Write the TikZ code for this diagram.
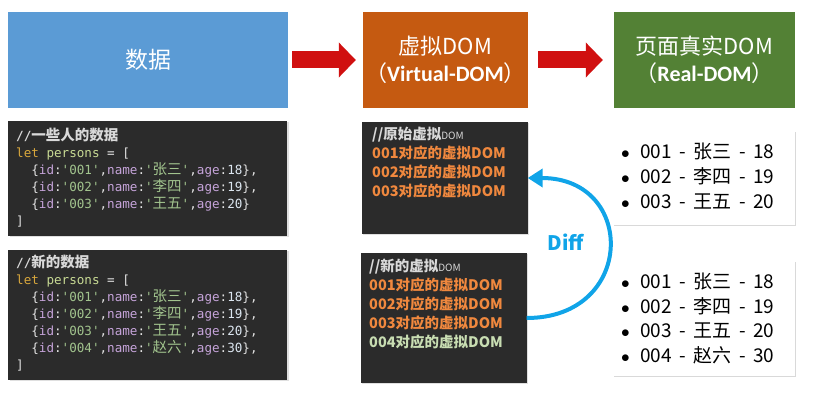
\documentclass[tikz,border=0pt]{standalone}
\usepackage{fontspec}
\setmainfont{Noto Sans CJK SC}
\setmonofont{DejaVu Sans Mono}
\newfontfamily\cjk{Noto Sans CJK SC}
\newfontfamily\calfont{Carlito}
\usetikzlibrary{arrows.meta,shadows}

\definecolor{databg}{HTML}{5B9BD5}
\definecolor{vdombg}{HTML}{C55A11}
\definecolor{rdombg}{HTML}{538135}
\definecolor{arrowred}{HTML}{D01010}
\definecolor{codebg}{HTML}{2B2B2B}
\definecolor{ccomment}{HTML}{D9D9D9}
\definecolor{ckw}{HTML}{D8A73C}
\definecolor{cvar}{HTML}{C8DA94}
\definecolor{cpun}{HTML}{E2E2E2}
\definecolor{cprop}{HTML}{C6A4DA}
\definecolor{cstr}{HTML}{A2C48E}
\definecolor{cnum}{HTML}{DCE6F0}
\definecolor{vorange}{HTML}{F0883E}
\definecolor{vgreen}{HTML}{C8DDB2}
\definecolor{diffblue}{HTML}{10A4E8}

% CJK inside the monospaced code
\newcommand\zh[1]{{\cjk\fontsize{14.5}{17}\selectfont #1}}
% one record of the persons array
\newcommand\rec[4]{\phantom{xx}\textcolor{cpun}{\{}\textcolor{cprop}{id}\textcolor{cpun}{:}\textcolor{cstr}{'#1'}\textcolor{cpun}{,}\textcolor{cprop}{name}\textcolor{cpun}{:}\textcolor{cstr}{'\zh{#2}'}\textcolor{cpun}{,}\textcolor{cprop}{age}\textcolor{cpun}{:}\textcolor{cnum}{#3}\textcolor{cpun}{\}#4}}
\newcommand\letline{\textcolor{ckw}{let} \textcolor{cvar}{persons} \textcolor{cpun}{= [}}
% one list entry of the page
\newcommand\li[3]{$\bullet$\hspace{10.5pt}#1\hspace{7.5pt}-\hspace{7.5pt}#2\hspace{7.5pt}-\hspace{7.5pt}#3}

\begin{document}
\begin{tikzpicture}[x=1pt,y=-1pt,
  topbox/.style={minimum height=96pt, inner sep=0pt, text=white, align=center},
  redarrow/.style={arrowred, line width=17pt, -{Triangle[length=17pt,width=34pt]}},
  codebox/.style={fill=codebg, minimum width=279pt, inner sep=0pt,
    drop shadow={opacity=0.25, shadow xshift=1.5pt, shadow yshift=-1.5pt}},
  codetext/.style={anchor=north west, align=left, inner sep=0pt, text=ccomment,
    font=\ttfamily\fontsize{12.6}{17}\selectfont},
  vbox/.style={fill=codebg, minimum width=166pt, inner sep=0pt,
    drop shadow={opacity=0.25, shadow xshift=1.5pt, shadow yshift=-1.5pt}},
  vtext/.style={anchor=north west, align=left, inner sep=0pt, text=vorange,
    font=\bfseries\fontsize{14.5}{19}\selectfont},
  listbox/.style={fill=white, minimum width=182pt, inner sep=0pt,
    drop shadow={opacity=0.3, shadow xshift=1pt, shadow yshift=-1pt}},
  listtext/.style={anchor=north west, align=left, inner sep=0pt, text=black},
  diffline/.style={diffblue, line width=4pt, -{Triangle[length=15pt,width=18pt]}}]
\useasboundingbox (0,0) rectangle (817,403);

% top row
\node[topbox, fill=databg, minimum width=280pt, font=\fontsize{23}{27}\selectfont] (data) at (148,60) {数据};
\node[topbox, fill=vdombg, minimum width=165pt, font=\fontsize{22}{27}\selectfont] (vdom) at (445.5,60)
  {虚拟DOM\\（{\calfont\bfseries Virtual-DOM}）};
\node[topbox, fill=rdombg, minimum width=181pt, font=\fontsize{22}{27}\selectfont] (rdom) at (704.5,60)
  {页面真实DOM\\（{\calfont\bfseries Real-DOM}）};
\draw[redarrow, shorten <=4pt, shorten >=7pt] (data.east) -- (vdom.west);
\draw[redarrow, shorten <=10pt, shorten >=11pt] (vdom.east) -- (rdom.west);

% data
\node[codebox, minimum height=115pt] (codeold) at (147.5,178.5) {};
\node[codetext] (codeoldtxt) at (16,128) {%
  {\bfseries //\zh{一些人的数据}}\\
  \letline\\
  \rec{001}{张三}{18}{,}\\
  \rec{002}{李四}{19}{,}\\
  \rec{003}{王五}{20}{}\\
  \textcolor{cpun}{]}};
\node[codebox, minimum height=130pt] (codenew) at (147.5,315) {};
\node[codetext] (codenewtxt) at (16,255) {%
  {\bfseries //\zh{新的数据}}\\
  \letline\\
  \rec{001}{张三}{18}{,}\\
  \rec{002}{李四}{19}{,}\\
  \rec{003}{王五}{20}{,}\\
  \rec{004}{赵六}{30}{,}\\
  \textcolor{cpun}{]}};

% virtual dom
\node[vbox, minimum height=112pt] (vold) at (444.5,178) {};
\node[vtext] (voldtxt) at (372,127) {%
  \textcolor{ccomment}{//原始虚拟{\mdseries\fontsize{10}{19}\selectfont DOM}}\\
  001对应的虚拟DOM\\
  002对应的虚拟DOM\\
  003对应的虚拟DOM};
\node[vbox, minimum height=130pt] (vnew) at (443.5,318) {};
\node[vtext] (vnewtxt) at (369,259) {%
  \textcolor{ccomment}{//新的虚拟{\mdseries\fontsize{10}{19}\selectfont DOM}}\\
  001对应的虚拟DOM\\
  002对应的虚拟DOM\\
  003对应的虚拟DOM\\
  \textcolor{vgreen}{004对应的虚拟DOM}};
\draw[diffline] (vnew.east) .. controls +(109,0) and +(109,0) .. (vold.east);
\node[text=diffblue, font=\bfseries\fontsize{20}{24}\selectfont] (diff) at (566,242) {Diff};

% real dom
\node[listbox, minimum height=94pt] (rold) at (704,178) {};
\node[listtext, font=\fontsize{19}{25}\selectfont] (roldtxt) at (621,143) {%
  \li{001}{张三}{18}\\
  \li{002}{李四}{19}\\
  \li{003}{王五}{20}};
\node[listbox, minimum height=115pt] (rnew) at (704,318.5) {};
\node[listtext, font=\fontsize{19}{24.5}\selectfont] (rnewtxt) at (621,273) {%
  \li{001}{张三}{18}\\
  \li{002}{李四}{19}\\
  \li{003}{王五}{20}\\
  \li{004}{赵六}{30}};
\end{tikzpicture}
\end{document}
